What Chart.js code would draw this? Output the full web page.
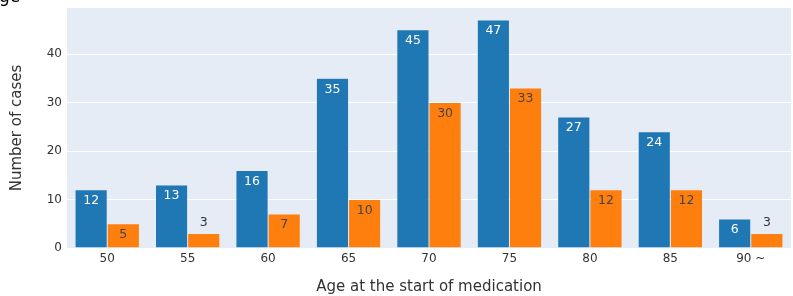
<!DOCTYPE html>
<html>
<head>
<meta charset="utf-8">
<script src="https://cdn.jsdelivr.net/npm/chart.js@4.4.0/dist/chart.umd.min.js"></script>
<style>
  body { margin: 0; background: #fff; }
  #wrap { width: 793px; height: 296px; position: relative; }
</style>
</head>
<body>
<div id="wrap"><canvas id="chart"></canvas></div>
<script>
// age groups at the start of medication
const ageLabels = ["50", "55", "60", "65", "70", "75", "80", "85", "90 ~"];
const seriesA = [12, 13, 16, 35, 45, 47, 27, 24, 6];
const seriesB = [5, 3, 7, 10, 30, 33, 12, 12, 3];
const yTicks = [0, 10, 20, 30, 40];

const fontFamily = "'DejaVu Sans', Verdana, sans-serif";
const textColor = "#333333";

// draws the value on each bar, inside at the top or above it when too short
const barLabels = {
    id: "barLabels",
    afterDatasetsDraw(chart) {
        const ctx = chart.ctx;
        ctx.save();
        ctx.font = "12.5px " + fontFamily;
        ctx.textAlign = "center";
        ctx.textBaseline = "middle";
        chart.data.datasets.forEach((ds, di) => {
            const meta = chart.getDatasetMeta(di);
            meta.data.forEach((bar, i) => {
                const h = bar.base - bar.y;
                let y, color;
                if (h >= 20) {
                    y = bar.y + 11;
                    color = ds.insideText;
                } else {
                    y = bar.y - 11;
                    color = textColor;
                }
                ctx.fillStyle = color;
                ctx.fillText(String(ds.data[i]), bar.x, y);
            });
        });
        ctx.restore();
    }
};

// cut-off title fragment at the very top
const topFragment = {
    id: "topFragment",
    afterDraw(chart) {
        const ctx = chart.ctx;
        ctx.save();
        ctx.font = "17px " + fontFamily;
        ctx.fillStyle = "#000";
        ctx.textAlign = "left";
        ctx.textBaseline = "alphabetic";
        ctx.fillText("ge", -1, 1.5);
        ctx.restore();
    }
};

// plot background
const plotBg = {
    id: "plotBg",
    beforeDraw(chart) {
        const a = chart.chartArea;
        const ctx = chart.ctx;
        ctx.save();
        ctx.fillStyle = "#e5ecf6";
        ctx.fillRect(a.left, a.top, a.right - a.left, a.bottom - a.top);
        ctx.restore();
    }
};

const ctx = document.getElementById("chart");
const chart = new Chart(ctx, {
    type: "bar",
    data: {
        labels: ageLabels,
        datasets: [
            {
                label: "A",
                data: seriesA,
                backgroundColor: "#1f77b4",
                borderColor: "rgba(229,236,246,0.3)",
                borderWidth: 0.5,
                insideText: "#ffffff"
            },
            {
                label: "B",
                data: seriesB,
                backgroundColor: "#ff7f0e",
                borderColor: "rgba(229,236,246,0.3)",
                borderWidth: 0.5,
                insideText: "#444444"
            }
        ]
    },
    options: {
        responsive: true,
        maintainAspectRatio: false,
        animation: false,
        layout: { padding: { top: 8, right: 2, left: 0, bottom: 0 } },
        datasets: { bar: { categoryPercentage: 0.8, barPercentage: 1.0 } },
        plugins: {
            legend: { display: false },
            tooltip: { enabled: false }
        },
        scales: {
            x: {
                grid: { display: false, drawTicks: false },
                border: { display: false },
                ticks: {
                    color: textColor,
                    font: { family: fontFamily, size: 12 },
                    padding: 4,
                    maxRotation: 0
                },
                title: {
                    display: true,
                    text: "Age at the start of medication",
                    color: textColor,
                    font: { family: fontFamily, size: 15 },
                    padding: { top: 0, bottom: 0 }
                },
                afterFit(scale) {
                    scale.height = 48;
                    scale.paddingLeft = 0;
                    scale.paddingRight = 0;
                }
            },
            y: {
                min: 0,
                max: 49.5,
                afterBuildTicks(scale) {
                    scale.ticks = yTicks.map(v => ({ value: v }));
                },
                grid: { color: "#ffffff", lineWidth: 1, drawTicks: false },
                border: { display: false },
                ticks: {
                    color: textColor,
                    font: { family: fontFamily, size: 12 },
                    padding: 5
                },
                title: {
                    display: true,
                    text: "Number of cases",
                    color: textColor,
                    font: { family: fontFamily, size: 15 },
                    padding: { top: 8, bottom: 0 }
                },
                afterFit(scale) {
                    scale.width = 67;
                    scale.paddingTop = 0;
                    scale.paddingBottom = 0;
                }
            }
        }
    },
    plugins: [plotBg, barLabels, topFragment]
});
</script>
</body>
</html>
